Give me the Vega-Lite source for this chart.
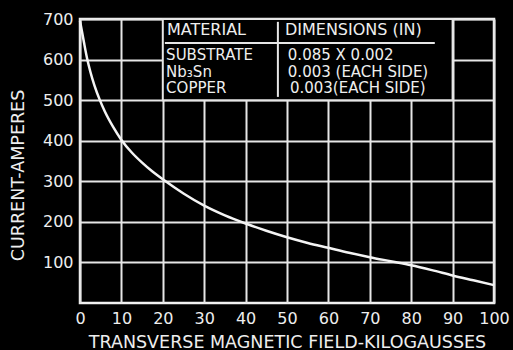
{
  "$schema": "https://vega.github.io/schema/vega-lite/v6.json",
  "width": 414,
  "height": 284,
  "autosize": {"type": "none"},
  "padding": {"left": 80, "top": 19, "right": 19, "bottom": 47},
  "background": "black",
  "view": {"stroke": "#f2f2f2", "strokeWidth": 2.5, "fill": "black"},
  "config": {
    "font": "DejaVu Sans",
    "axis": {
      "grid": true,
      "gridColor": "#e6e6e6",
      "gridWidth": 2,
      "gridOpacity": 1,
      "domain": false,
      "ticks": false,
      "labelColor": "#eeeeee",
      "labelFont": "DejaVu Sans",
      "labelFontSize": 16,
      "labelFontWeight": "normal",
      "titleColor": "#eeeeee",
      "titleFont": "DejaVu Sans",
      "titleFontSize": 17.5,
      "titleFontWeight": "normal",
      "labelOverlap": false,
      "labelBound": false,
      "labelFlush": false
    }
  },
  "datasets": {
    "curve": [
      {"field": 0, "current": 695},
      {"field": 0.5, "current": 668},
      {"field": 1, "current": 640},
      {"field": 1.77, "current": 600},
      {"field": 2.5, "current": 570},
      {"field": 3.5, "current": 536},
      {"field": 4.8, "current": 500},
      {"field": 6, "current": 472},
      {"field": 8, "current": 434},
      {"field": 10, "current": 402},
      {"field": 12.5, "current": 371},
      {"field": 15, "current": 346},
      {"field": 17.5, "current": 324},
      {"field": 20, "current": 305},
      {"field": 25, "current": 270},
      {"field": 30, "current": 240},
      {"field": 35, "current": 216},
      {"field": 40, "current": 196},
      {"field": 45, "current": 178},
      {"field": 50, "current": 162},
      {"field": 55, "current": 148},
      {"field": 60, "current": 136},
      {"field": 65, "current": 124},
      {"field": 70, "current": 113},
      {"field": 75, "current": 103},
      {"field": 80, "current": 93},
      {"field": 85, "current": 81},
      {"field": 90, "current": 68},
      {"field": 95, "current": 56},
      {"field": 100, "current": 44}
    ],
    "box": [
      {"x1": 20, "x2": 90, "y1": 500, "y2": 700}
    ],
    "rules": [
      {"x1": 20.5, "x2": 85.7, "y1": 641, "y2": 641},
      {"x1": 47.8, "x2": 47.8, "y1": 508, "y2": 693}
    ],
    "headers": [
      {"x": 21.0, "y": 673, "label": "MATERIAL"},
      {"x": 49.5, "y": 673, "label": "DIMENSIONS (IN)"}
    ],
    "labels": [
      {"x": 20.8, "y": 612.5, "label": "SUBSTRATE"},
      {"x": 20.8, "y": 570.5, "label": "Nb₃Sn"},
      {"x": 20.8, "y": 528.7, "label": "COPPER"},
      {"x": 50.2, "y": 612.5, "label": "0.085 X 0.002"},
      {"x": 50.2, "y": 570.5, "label": "0.003 (EACH SIDE)"},
      {"x": 50.7, "y": 528.7, "label": "0.003(EACH SIDE)"}
    ]
  },
  "layer": [
    {
      "data": {"name": "curve"},
      "mark": {"type": "line", "color": "#f4f4f4", "strokeWidth": 2.5, "interpolate": "monotone"},
      "encoding": {
        "x": {
          "field": "field", "type": "quantitative",
          "scale": {"domain": [0, 100], "nice": false},
          "axis": {"values": [0,10,20,30,40,50,60,70,80,90,100], "labelPadding": 7,
                   "title": "TRANSVERSE MAGNETIC FIELD-KILOGAUSSES", "titleY": 39, "titleBaseline": "middle"}
        },
        "y": {
          "field": "current", "type": "quantitative",
          "scale": {"domain": [0, 700], "nice": false},
          "axis": {"values": [100,200,300,400,500,600,700], "labelPadding": 7,
                   "title": "CURRENT-AMPERES", "titleX": -62, "titleY": 156,
                   "titleAngle": -90, "titleAlign": "center", "titleBaseline": "middle"}
        }
      }
    },
    {
      "data": {"name": "box"},
      "mark": {"type": "rect", "fill": "black", "stroke": "#e6e6e6", "strokeWidth": 2},
      "encoding": {
        "x": {"field": "x1", "type": "quantitative"},
        "x2": {"field": "x2"},
        "y": {"field": "y1", "type": "quantitative"},
        "y2": {"field": "y2"}
      }
    },
    {
      "data": {"name": "rules"},
      "mark": {"type": "rule", "color": "#e6e6e6", "strokeWidth": 2},
      "encoding": {
        "x": {"field": "x1", "type": "quantitative"},
        "x2": {"field": "x2"},
        "y": {"field": "y1", "type": "quantitative"},
        "y2": {"field": "y2"}
      }
    },
    {
      "data": {"name": "headers"},
      "mark": {"type": "text", "align": "left", "baseline": "middle", "fontSize": 16, "color": "#eeeeee", "font": "DejaVu Sans"},
      "encoding": {
        "x": {"field": "x", "type": "quantitative"},
        "y": {"field": "y", "type": "quantitative"},
        "text": {"field": "label"}
      }
    },
    {
      "data": {"name": "labels"},
      "mark": {"type": "text", "align": "left", "baseline": "middle", "fontSize": 15, "color": "#eeeeee", "font": "DejaVu Sans"},
      "encoding": {
        "x": {"field": "x", "type": "quantitative"},
        "y": {"field": "y", "type": "quantitative"},
        "text": {"field": "label"}
      }
    }
  ]
}
